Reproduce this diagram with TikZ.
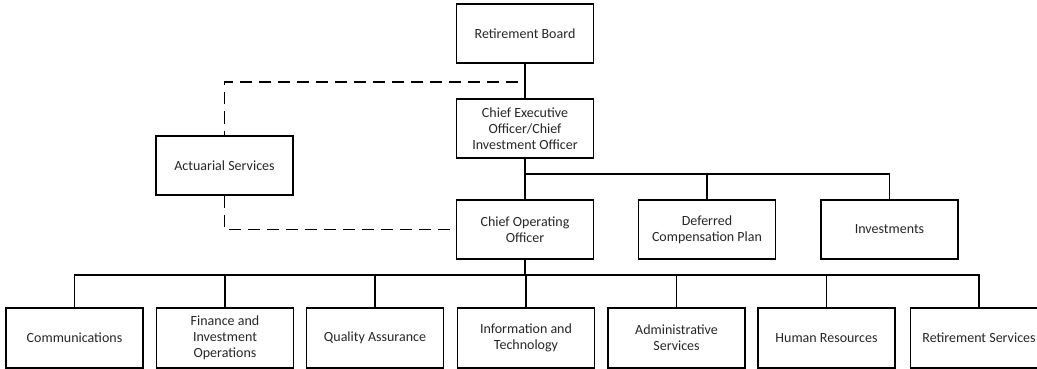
\documentclass[tikz,border=0pt]{standalone}
\usepackage{fontspec}
\setmainfont{Carlito}
\usetikzlibrary{positioning, calc}
\tikzset{
    unit/.style={rectangle, draw, line width=1.6pt, minimum width=137pt, minimum height=59pt,
                 inner sep=2pt, align=center, text=black!85,
                 font=\fontsize{14}{16}\selectfont},
    link/.style={line width=1.6pt},
    dotted link/.style={line width=1.6pt, dash pattern=on 12pt off 7pt},
}

\begin{document}
\begin{tikzpicture}[x=1pt, y=-1pt]

    \useasboundingbox (0,0) rectangle (1037,369);

    % top of the chart
    \node[unit] (board) at (525,33.5) {Retirement Board};
    \node[unit] (ceo) at (525,128.5) {Chief Executive\\Officer/Chief\\Investment Officer};
    \node[unit] (actuarial) at (224.5,165.5) {Actuarial Services};

    % reports of the CEO
    \node[unit] (coo) at (525,229.5) {Chief Operating\\Officer};
    \node[unit] (deferred) at (707,229.5) {Deferred\\Compensation Plan};
    \node[unit] (invest) at (889.5,229.5) {Investments};

    % divisions under the COO
    \node[unit, minimum height=60pt] (comms) at (74.5,338) {Communications};
    \node[unit, minimum height=60pt] (finance) at (225,338) {Finance and\\Investment\\Operations};
    \node[unit, minimum height=60pt] (quality) at (375,338) {Quality Assurance};
    \node[unit, minimum height=60pt] (infotech) at (526,338) {Information and\\Technology};
    \node[unit, minimum height=60pt] (admin) at (676.5,338) {Administrative\\Services};
    \node[unit, minimum height=60pt] (hr) at (826.5,338) {Human Resources};
    \node[unit, minimum height=60pt] (retserv) at (979,338) {Retirement Services};

    \coordinate (boardtap) at (518,82);
    \coordinate (ceobus) at (525,174);
    \coordinate (coobus) at (525,275);

    % Board -> CEO
    \draw[link] (board.south) -- (ceo.north);

    % dashed line to Actuarial Services
    \draw[dotted link] (boardtap) -| (actuarial.north);
    \draw[dotted link] (actuarial.south) |- (coo.west);

    % CEO -> direct reports
    \draw[link] (ceo.south) -- (coo.north);
    \draw[link] (ceobus) -| (deferred.north);
    \draw[link] (ceobus) -| (invest.north);

    % COO -> divisions
    \draw[link] (coo.south) -- (coobus) -- (coobus -| infotech.north) -- (infotech.north);
    \draw[link] (coobus) -| (comms.north);
    \draw[link] (coobus) -| (finance.north);
    \draw[link] (coobus) -| (quality.north);
    \draw[link] (coobus) -| (admin.north);
    \draw[link] (coobus) -| (hr.north);
    \draw[link] (coobus) -| (retserv.north);

\end{tikzpicture}
\end{document}
